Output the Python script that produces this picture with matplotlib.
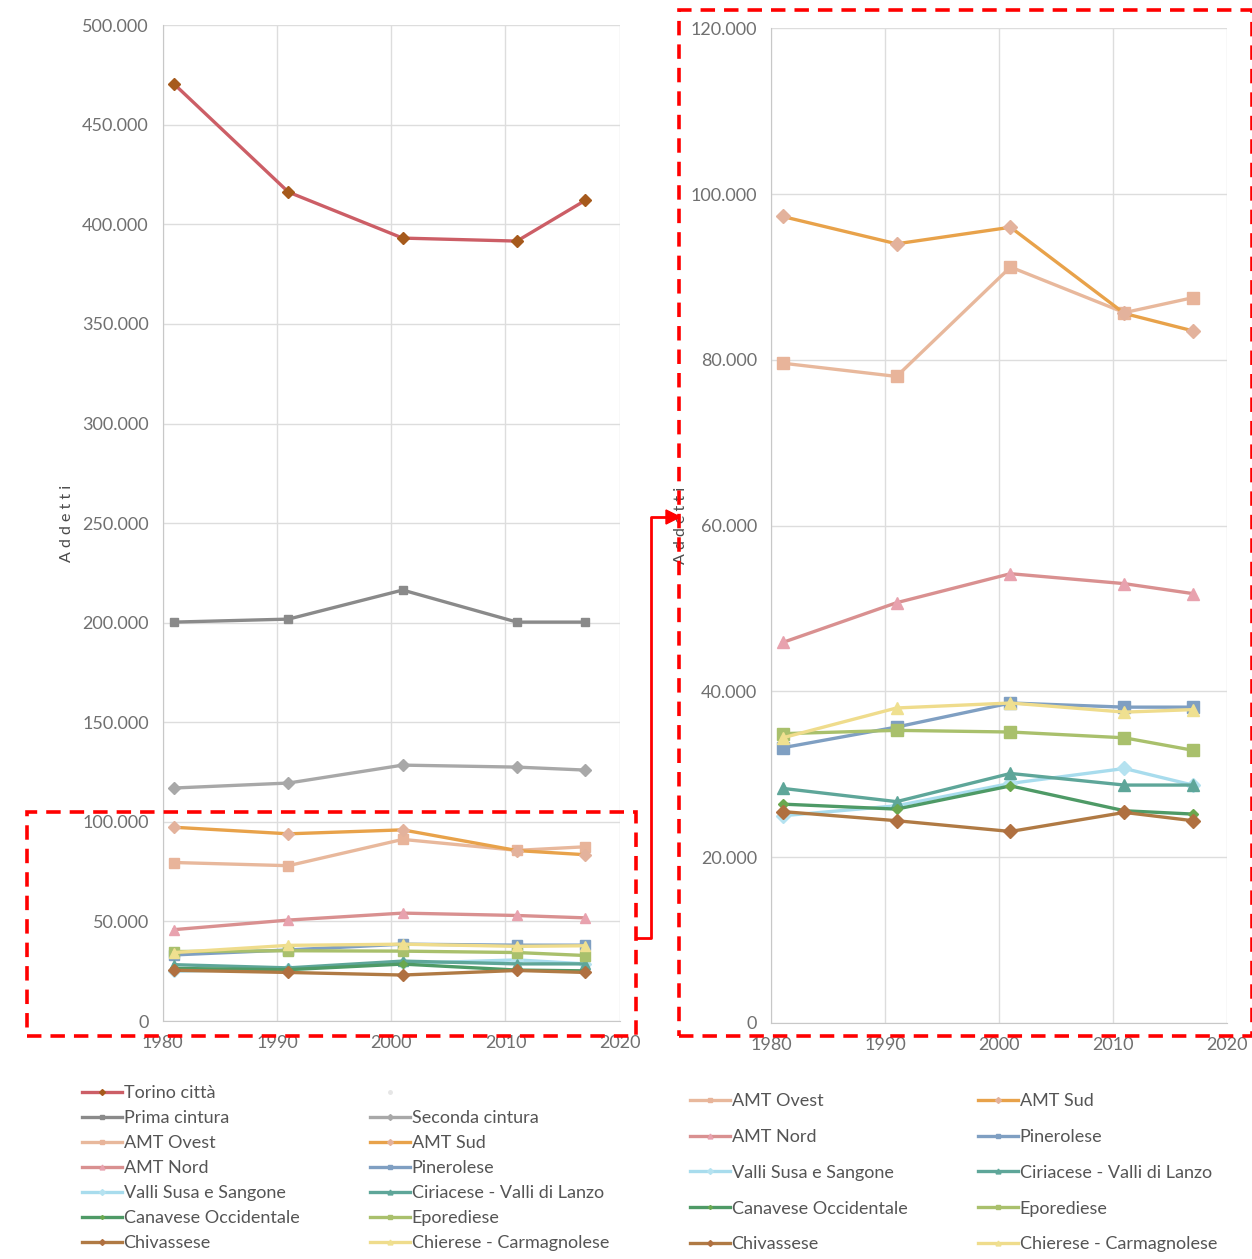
import matplotlib
matplotlib.use("Agg")
import matplotlib.pyplot as plt
from matplotlib.lines import Line2D
from matplotlib.patches import Rectangle
from matplotlib.ticker import FuncFormatter

plt.rcParams['font.family'] = ['Lato', 'DejaVu Sans']

# data: addetti per area, censimenti 1981-2011 + 2017
years = [1981, 1991, 2001, 2011, 2017]
torino = [470400, 416200, 393100, 391600, 412100]
prima_cintura = [200300, 201800, 216400, 200300, 200300]
seconda_cintura = [117000, 119500, 128500, 127500, 126000]
amt_ovest = [79600, 78000, 91200, 85700, 87500]
amt_sud = [97300, 94000, 96000, 85600, 83500]
amt_nord = [45900, 50700, 54200, 53000, 51800]
pinerolese = [33200, 35700, 38600, 38100, 38100]
valli_susa = [25000, 26200, 28900, 30700, 28700]
ciriacese = [28300, 26700, 30100, 28700, 28700]
canavese = [26400, 25800, 28600, 25600, 25200]
eporediese = [34900, 35300, 35100, 34400, 32900]
chivassese = [25500, 24400, 23100, 25400, 24400]
chierese = [34400, 38000, 38600, 37500, 37800]

# name, values, line colour, marker, marker colour, marker size
series = [
    ("Torino città", torino, "#cc5e66", "D", "#a65a1c", 6),
    ("Prima cintura", prima_cintura, "#8a8a8a", "s", "#8a8a8a", 6),
    ("Seconda cintura", seconda_cintura, "#a8a8a8", "D", "#a8a8a8", 6),
    ("AMT Ovest", amt_ovest, "#e8b89c", "s", "#e8b49a", 7),
    ("AMT Sud", amt_sud, "#e8a24a", "D", "#e3b29c", 6),
    ("AMT Nord", amt_nord, "#d99090", "^", "#e8a2ae", 7),
    ("Pinerolese", pinerolese, "#7f9fc2", "s", "#7f9fc2", 7),
    ("Valli Susa e Sangone", valli_susa, "#a8dced", "D", "#b5e2f0", 6),
    ("Ciriacese - Valli di Lanzo", ciriacese, "#5ea699", "^", "#5ea699", 7),
    ("Canavese Occidentale", canavese, "#4e9a66", "D", "#6aa84f", 4),
    ("Eporediese", eporediese, "#a9c06c", "s", "#a9c06c", 7),
    ("Chivassese", chivassese, "#b07a44", "D", "#b07040", 6),
    ("Chierese - Carmagnolese", chierese, "#efdc8c", "^", "#efe090", 7),
]

fmt = FuncFormatter(lambda v, p: f"{v:,.0f}".replace(",", "."))

fig = plt.figure(figsize=(12.52, 12.59), dpi=100)
ax1 = fig.add_axes([0.130, 0.189, 0.365, 0.791])
ax2 = fig.add_axes([0.616, 0.1875, 0.364, 0.790])


def style(ax, ymax, step):
    ax.set_xlim(1980, 2020)
    ax.set_ylim(0, ymax)
    ax.set_xticks(range(1980, 2021, 10))
    ax.set_yticks(range(0, ymax + 1, step))
    ax.yaxis.set_major_formatter(fmt)
    ax.grid(True, color="#dddddd", linewidth=1)
    ax.set_axisbelow(True)
    for s in ["top", "right"]:
        ax.spines[s].set_visible(False)
    for s in ["left", "bottom"]:
        ax.spines[s].set_color("#c8c8c8")
    ax.tick_params(length=0, labelsize=13, colors="#707070", pad=10)
    ax.set_ylabel("A d d e t t i", fontsize=11.5, color="#4a4a4a", labelpad=6)


handles = {}
for name, vals, lc, m, mc, ms in series:
    h, = ax1.plot(years, vals, color=lc, lw=2.4, marker=m, mfc=mc, mec=mc, ms=ms, label=name)
    handles[name] = h
    if name not in ("Torino città", "Prima cintura", "Seconda cintura"):
        ax2.plot(years, vals, color=lc, lw=2.4, marker=m, mfc=mc, mec=mc, ms=ms + 1)

style(ax1, 500000, 50000)
style(ax2, 120000, 20000)
ax2.yaxis.labelpad = 2

blank = Line2D([], [], ls="none", marker="o", ms=5, color="#e6e6e6")

leg_kw = dict(loc="upper left", frameon=False, fontsize=13, handlelength=2.2,
              handletextpad=0.1, borderaxespad=0, borderpad=0, labelcolor="#555555",
              markerscale=0.5)

# legends of the left chart
col1 = ["Torino città", "Prima cintura", "AMT Ovest", "AMT Nord", "Valli Susa e Sangone",
        "Canavese Occidentale", "Chivassese"]
col2 = ["Seconda cintura", "AMT Sud", "Pinerolese", "Ciriacese - Valli di Lanzo",
        "Eporediese", "Chierese - Carmagnolese"]
fig.legend([handles[n] for n in col1], col1, bbox_to_anchor=(82 / 1252, 1 - 1085 / 1259),
           labelspacing=0.50, **leg_kw)
fig.legend([blank] + [handles[n] for n in col2], [""] + col2,
           bbox_to_anchor=(370 / 1252, 1 - 1085 / 1259), labelspacing=0.50, **leg_kw)

# legends of the right chart
col3 = ["AMT Ovest", "AMT Nord", "Valli Susa e Sangone", "Canavese Occidentale", "Chivassese"]
col4 = ["AMT Sud", "Pinerolese", "Ciriacese - Valli di Lanzo", "Eporediese", "Chierese - Carmagnolese"]
fig.legend([handles[n] for n in col3], col3, bbox_to_anchor=(690 / 1252, 1 - 1093 / 1259),
           labelspacing=1.1, **leg_kw)
fig.legend([handles[n] for n in col4], col4, bbox_to_anchor=(978 / 1252, 1 - 1093 / 1259),
           labelspacing=1.1, **leg_kw)

# red dashed zoom boxes and connector
W, H = 1252, 1259


def fx(x):
    return x / W


def fy(y):
    return 1 - y / H


for (x0, y0, x1, y1) in [(27, 812, 636, 1036), (679, 10, 1252, 1036)]:
    fig.patches.append(Rectangle((fx(x0), fy(y1)), fx(x1) - fx(x0), fy(y0) - fy(y1),
                                 transform=fig.transFigure, fill=False, edgecolor="#ff0000",
                                 lw=2.6, ls=(0, (4, 2.5)), zorder=10))
fig.lines.append(Line2D([fx(636), fx(651), fx(651), fx(668)], [fy(938), fy(938), fy(517), fy(517)],
                        transform=fig.transFigure, color="#ff0000", lw=2, zorder=10))
fig.patches.append(plt.Polygon([[fx(666), fy(510)], [fx(680), fy(517)], [fx(666), fy(524)]],
                               closed=True, transform=fig.transFigure, color="#ff0000", zorder=10))

fig.savefig("out.png", dpi=100)
